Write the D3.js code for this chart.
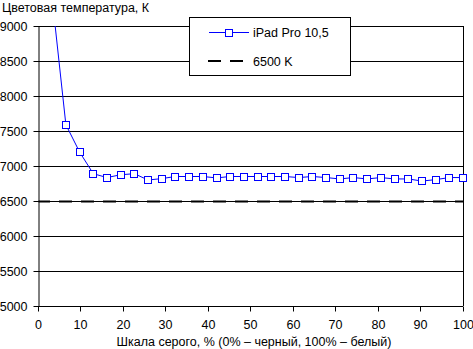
<!DOCTYPE html>
<html>
<head>
<meta charset="utf-8">
<script src="https://cdn.jsdelivr.net/npm/d3@7"></script>
<style>
  html, body { margin: 0; padding: 0; background: #fff; }
  svg text { font-family: "Liberation Sans", Arial, sans-serif; font-size: 12.5px; fill: #000; }
</style>
</head>
<body>
<svg id="chart" width="473" height="349"></svg>
<script>
// Grey level, % (0 = black, 100 = white), 32 steps
const grayLevels = d3.range(32).map(i => i * 100 / 31);
// Measured colour temperature, K
const ipadTemps = [10800, 9390, 7590, 7200, 6890, 6835, 6875, 6890, 6800, 6820,
                   6850, 6850, 6850, 6830, 6850, 6850, 6850, 6850, 6850, 6835,
                   6850, 6835, 6815, 6835, 6815, 6835, 6815, 6815, 6785, 6805,
                   6835, 6835];
const referenceTemp = 6500;
const yTicks = [5000, 5500, 6000, 6500, 7000, 7500, 8000, 8500, 9000];
const xTicks = [0, 10, 20, 30, 40, 50, 60, 70, 80, 90, 100];
const seriesNames = ["iPad Pro 10,5", "6500 K"];
const yTitle = "Цветовая температура, К";
const xTitle = "Шкала серого, % (0% – черный, 100% – белый)";

const svg = d3.select("#chart");
const plotL = 38.5, plotR = 463, plotT = 26, plotB = 306;

const x = d3.scaleLinear().domain([0, 100]).range([plotL, plotR]);
const y = d3.scaleLinear().domain([5000, 9000]).range([plotB, plotT]);
const crisp = v => Math.round(v) + 0.5;

// horizontal gridlines
svg.append("g").selectAll("line").data(yTicks.slice(1)).join("line")
  .attr("x1", plotL).attr("x2", plotR)
  .attr("y1", d => crisp(y(d) - 0.5)).attr("y2", d => crisp(y(d) - 0.5))
  .attr("stroke", "#000").attr("stroke-width", 1);

// right border
svg.append("line")
  .attr("x1", crisp(plotR - 0.5)).attr("x2", crisp(plotR - 0.5))
  .attr("y1", plotT).attr("y2", plotB)
  .attr("stroke", "#000");

// y axis
const yAxis = d3.axisLeft(y).tickValues(yTicks).tickSize(5).tickPadding(6)
  .tickFormat(d3.format("d"));
const gy = svg.append("g").attr("transform", `translate(${plotL},0)`).call(yAxis);
gy.select(".domain").attr("stroke", "#000").attr("d", `M0.5,${plotT}V${plotB + 0.5}`);
gy.selectAll(".tick line").attr("stroke", "#000").attr("x1", 0.5).attr("x2", -5);
gy.selectAll(".tick").attr("transform", d => `translate(0,${crisp(y(d) - 0.5)})`);
gy.selectAll("text").attr("dy", "0.36em");
gy.attr("font-family", null).attr("font-size", null);

// x axis
const xAxis = d3.axisBottom(x).tickValues(xTicks).tickSize(5).tickPadding(9);
const gx = svg.append("g").attr("transform", `translate(0,${crisp(plotB - 0.5)})`).call(xAxis);
gx.select(".domain").attr("stroke", "#000").attr("d", `M${plotL},0H${plotR}`);
gx.selectAll(".tick line").attr("stroke", "#000");
gx.selectAll(".tick").attr("transform", d => `translate(${crisp(x(d) - 0.5)},0)`);
gx.attr("font-family", null).attr("font-size", null);

// reference level
svg.append("line")
  .attr("x1", plotL).attr("x2", plotR)
  .attr("y1", y(referenceTemp) + 0.5).attr("y2", y(referenceTemp) + 0.5)
  .attr("stroke", "#000").attr("stroke-width", 2)
  .attr("stroke-dasharray", "13,9").attr("stroke-dashoffset", 1.5);

// measured series, clipped at the top of the plot
svg.append("clipPath").attr("id", "plotclip")
  .append("rect").attr("x", 0).attr("y", plotT).attr("width", 473).attr("height", 349 - plotT);

const pts = grayLevels.map((g, i) => [g, ipadTemps[i]]);
const series = svg.append("g").attr("clip-path", "url(#plotclip)");
series.append("path")
  .datum(pts)
  .attr("fill", "none").attr("stroke", "#0000ff").attr("stroke-width", 1)
  .attr("d", d3.line().x(d => x(d[0])).y(d => y(d[1])));
series.selectAll("rect").data(pts).join("rect")
  .attr("x", d => Math.round(x(d[0])) - 3.5)
  .attr("y", d => Math.round(y(d[1])) - 3.5)
  .attr("width", 7).attr("height", 7)
  .attr("fill", "#fff").attr("stroke", "#0000ff").attr("stroke-width", 1);

// legend
const lg = svg.append("g");
lg.append("rect").attr("x", 189.5).attr("y", 17.5).attr("width", 161).attr("height", 58)
  .attr("fill", "#fff").attr("stroke", "#000");
lg.append("line").attr("x1", 209).attr("x2", 249).attr("y1", 32.5).attr("y2", 32.5)
  .attr("stroke", "#0000ff");
lg.append("rect").attr("x", 225.5).attr("y", 29.5).attr("width", 7).attr("height", 7)
  .attr("fill", "#fff").attr("stroke", "#0000ff");
lg.append("text").attr("x", 253).attr("y", 37).text(seriesNames[0]);
lg.append("line").attr("x1", 208).attr("x2", 244).attr("y1", 61).attr("y2", 61)
  .attr("stroke", "#000").attr("stroke-width", 2).attr("stroke-dasharray", "13,9");
lg.append("text").attr("x", 253).attr("y", 65.5).text(seriesNames[1]);

// titles
svg.append("text").attr("x", 2).attr("y", 12).text(yTitle);
svg.append("text").attr("x", 254).attr("y", 346).attr("text-anchor", "middle").text(xTitle);
</script>
</body>
</html>
